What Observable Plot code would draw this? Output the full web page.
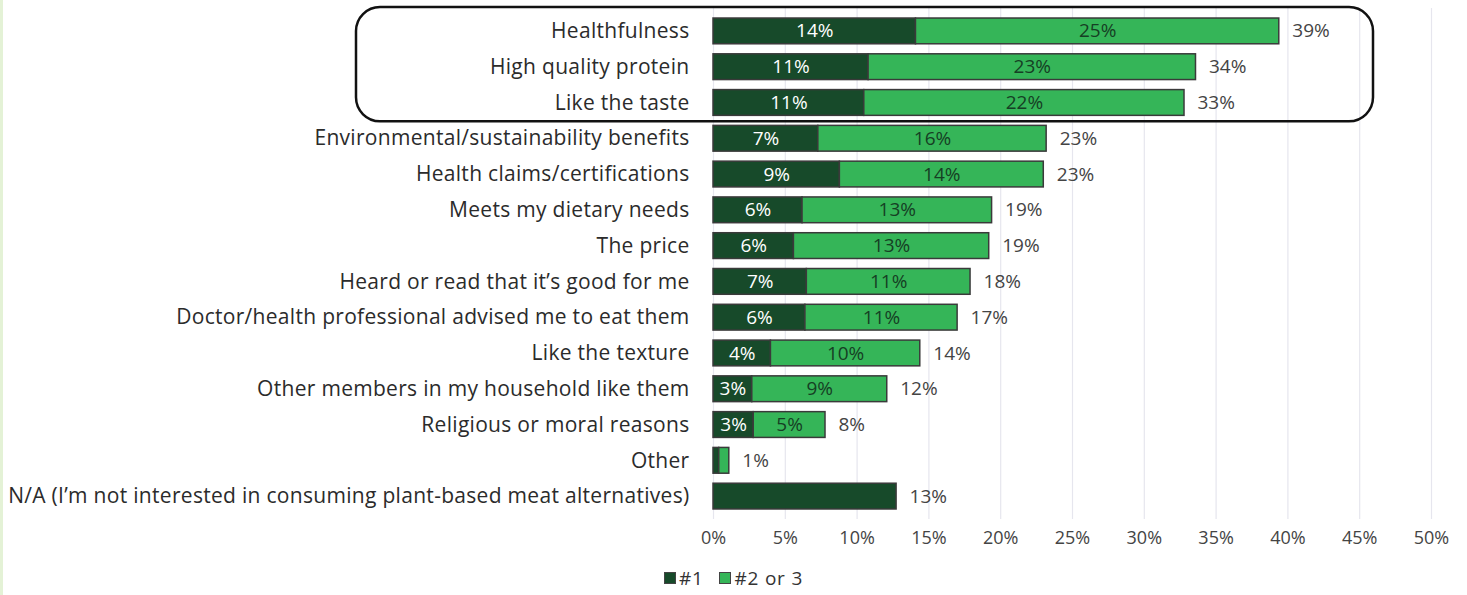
<!DOCTYPE html>
<html>
<head>
<meta charset="utf-8">
<script src="https://cdn.jsdelivr.net/npm/d3@7"></script>
<script src="https://cdn.jsdelivr.net/npm/@observablehq/plot@0.6"></script>
<style>
  html, body { margin: 0; padding: 0; background: #fff; }
  body { width: 1467px; height: 595px; position: relative; overflow: hidden; font-family: "Open Sans", Lato, sans-serif; }
  #edge { position: absolute; left: 0; top: 0; width: 3px; height: 595px; background: #e4f2d6; }
  #legend { position: absolute; left: 0; width: 1467px; top: 565px; text-align: center; font-size: 19px; letter-spacing: 0.8px; color: #333; }
  .sw { display: inline-block; width: 10px; height: 10px; border: 1px solid #444; vertical-align: middle; margin-right: 3px; position: relative; top: -2px; }
  .item { margin: 0 5px; }
</style>
</head>
<body>
<div id="edge"></div>
<div id="chart"></div>
<div id="legend">
  <span class="item"><span class="sw" style="background:#174a2a"></span>#1</span>
  <span class="item"><span class="sw" style="background:#35b558"></span>#2 or 3</span>
</div>
<script>
const categories = [
  "Healthfulness",
  "High quality protein",
  "Like the taste",
  "Environmental/sustainability benefits",
  "Health claims/certifications",
  "Meets my dietary needs",
  "The price",
  "Heard or read that it\u2019s good for me",
  "Doctor/health professional advised me to eat them",
  "Like the texture",
  "Other members in my household like them",
  "Religious or moral reasons",
  "Other",
  "N/A (I\u2019m not interested in consuming plant-based meat alternatives)"
];
const first  = [14.1, 10.8, 10.5, 7.3, 8.8, 6.2, 5.6, 6.5, 6.4, 4.0, 2.7, 2.8, 0.4, 12.75];
const second = [25.3, 22.8, 22.3, 15.9, 14.2, 13.2, 13.6, 11.4, 10.6, 10.4, 9.4, 5.0, 0.7, 0];
const firstLabels  = ["14%","11%","11%","7%","9%","6%","6%","7%","6%","4%","3%","3%","",""];
const secondLabels = ["25%","23%","22%","16%","14%","13%","13%","11%","11%","10%","9%","5%","",""];
const totalLabels  = ["39%","34%","33%","23%","23%","19%","19%","18%","17%","14%","12%","8%","1%","13%"];
const seriesNames = ["#1", "#2 or 3"];
const xTicks = [0, 5, 10, 15, 20, 25, 30, 35, 40, 45, 50];

const DARK = "#174a2a", LIGHT = "#35b558";

const segs = [];
categories.forEach((c, i) => {
  segs.push({cat: c, series: seriesNames[0], x1: 0, x2: first[i], mid: first[i] / 2, label: firstLabels[i]});
  if (second[i] > 0) segs.push({cat: c, series: seriesNames[1], x1: first[i], x2: first[i] + second[i], mid: first[i] + second[i] / 2, label: secondLabels[i]});
});
const totals = categories.map((c, i) => ({cat: c, total: first[i] + second[i], label: totalLabels[i]}));

const plot = Plot.plot({
  width: 1467,
  height: 560,
  marginLeft: 713,
  marginRight: 36,
  marginTop: 8,
  marginBottom: 41,
  style: {fontFamily: "'Open Sans', Lato, sans-serif", color: "#333", background: "#fff"},
  x: {domain: [0, 50], ticks: xTicks, tickFormat: d => d + "%", label: null},
  y: {domain: categories, padding: 0.28, round: false, label: null},
  color: {domain: seriesNames, range: [DARK, LIGHT]},
  marks: [
    Plot.gridX(xTicks, {stroke: "#e6e6ee", strokeOpacity: 1, strokeWidth: 1.2}),
    Plot.barX(segs, {y: "cat", x1: "x1", x2: "x2", fill: "series", stroke: "#3a3a3a", strokeWidth: 1.5}),
    Plot.text(segs, {y: "cat", x: "mid", text: "label", fontSize: 19,
      fill: d => d.series === "#1" ? "#ffffff" : "#163f24"}),
    Plot.text(totals, {y: "cat", x: "total", text: "label", dx: 13, textAnchor: "start", fontSize: 19, fill: "#444"}),
    Plot.axisY({tickSize: 0, tickPadding: 24, fontSize: 21, label: null, fill: "#2b2b2b"}),
    Plot.axisX({ticks: xTicks, tickFormat: d => d + "%", tickSize: 0, tickPadding: 12, fontSize: 18, label: null, fill: "#444"})
  ]
});

document.getElementById("chart").appendChild(plot);

// Wider letter spacing on the category labels (reference uses a wide geometric face)
d3.select(plot).selectAll('g[aria-label="y-axis tick label"] text').style("letter-spacing", "0.3px");

// Highlight box around the top three reasons
const yScale = plot.scale("y");
const boxTop = yScale.apply(categories[0]) - 11;
const boxBottom = yScale.apply(categories[2]) + yScale.bandwidth + 6;
d3.select(plot).append("rect")
  .attr("x", 356).attr("y", boxTop)
  .attr("width", 1373 - 356).attr("height", boxBottom - boxTop)
  .attr("rx", 24).attr("ry", 24)
  .attr("fill", "none").attr("stroke", "#111").attr("stroke-width", 2.5);
</script>
</body>
</html>
